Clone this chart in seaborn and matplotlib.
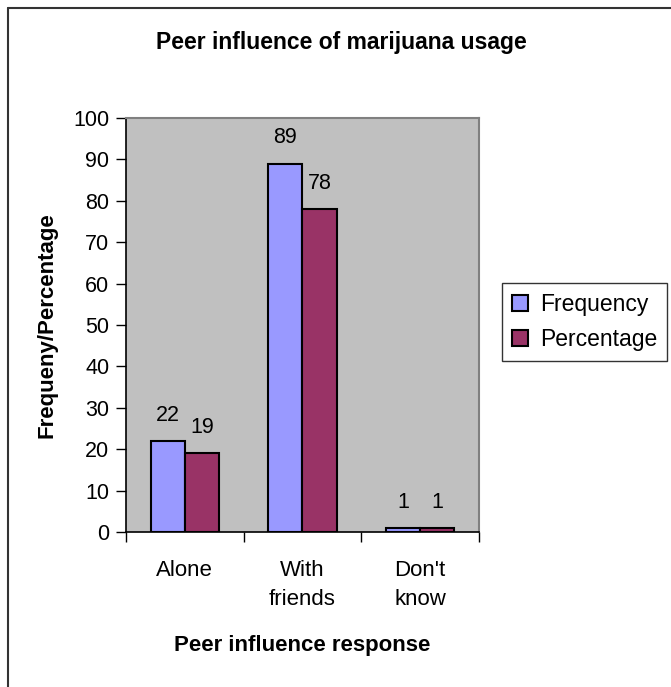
import numpy as np
import pandas as pd
import matplotlib.pyplot as plt
import seaborn as sns
from matplotlib.lines import Line2D

# data
categories = ["Alone", "With\nfriends", "Don't\nknow"]
frequency = [22, 89, 1]
percentage = [19, 78, 1]
series = ["Frequency", "Percentage"]
y_ticks = list(range(0, 101, 10))

sns.set_style("white")
plt.rcParams['font.family'] = ['Liberation Sans', 'DejaVu Sans']
plt.rcParams.update({"text.color": "black", "axes.labelcolor": "black",
                     "xtick.color": "black", "ytick.color": "black"})

df = pd.DataFrame({
    "category": categories * 2,
    "value": frequency + percentage,
    "series": [series[0]] * 3 + [series[1]] * 3,
})

fig = plt.figure(figsize=(6.71, 6.87), dpi=100)
ax = fig.add_axes([126 / 671, 1 - 532 / 687, 353 / 671, 414 / 687])
ax.set_facecolor("#C0C0C0")

sns.barplot(data=df, x="category", y="value", hue="series", order=categories,
            hue_order=series, palette=["#9999FF", "#993366"], width=0.58,
            edgecolor="black", linewidth=1.5, saturation=1, ax=ax)

for cont in ax.containers:
    ax.bar_label(cont, fmt="%d", padding=11, fontsize=15.5, color="black")

ax.set_ylim(0, 100)
ax.set_xlim(-0.5, 2.5)
ax.set_yticks(y_ticks)
ax.tick_params(axis="y", length=7, width=1, pad=5, labelsize=15.5, left=True)
ax.tick_params(axis="x", which="major", length=0, pad=20, labelsize=16)
ax.set_xticks([-0.5, 0.5, 1.5, 2.5], minor=True)
ax.tick_params(axis="x", which="minor", length=7, width=1, bottom=True)
for lbl in ax.get_xticklabels():
    lbl.set_linespacing(1.5)

for side in ["left", "bottom"]:
    ax.spines[side].set_color("black")
    ax.spines[side].set_linewidth(1.2)
for side in ["top", "right"]:
    ax.spines[side].set_color("#808080")
    ax.spines[side].set_linewidth(1.5)

ax.set_xlabel("Peer influence response", fontsize=16, fontweight="bold")
ax.xaxis.label.set_va("center")
ax.xaxis.set_label_coords(0.5, -0.275)
ax.set_ylabel("Frequeny/Percentage", fontsize=16, fontweight="bold")
ax.yaxis.label.set_va("center")
ax.yaxis.set_label_coords(-0.223, 0.5)

fig.text(341 / 671, 1 - 43 / 687, "Peer influence of marijuana usage",
         ha="center", va="center", fontsize=16.5, fontweight="bold")

leg = ax.legend(loc="center left", bbox_to_anchor=(502 / 671, 1 - 322 / 687),
                bbox_transform=fig.transFigure, fontsize=16.5, frameon=True,
                fancybox=False, edgecolor="black", handlelength=0.7,
                handleheight=0.7, handletextpad=0.5, borderpad=0.45,
                labelspacing=0.5, borderaxespad=0)
leg.get_frame().set_linewidth(1.0)

# outer chart frame (left and top edges visible)
fig.add_artist(Line2D([8 / 671, 8 / 671], [0, 1 - 8 / 687], color="#333333", lw=1.5))
fig.add_artist(Line2D([8 / 671, 1], [1 - 8 / 687, 1 - 8 / 687], color="#333333", lw=1.5))

fig.savefig("out.png", dpi=100)
